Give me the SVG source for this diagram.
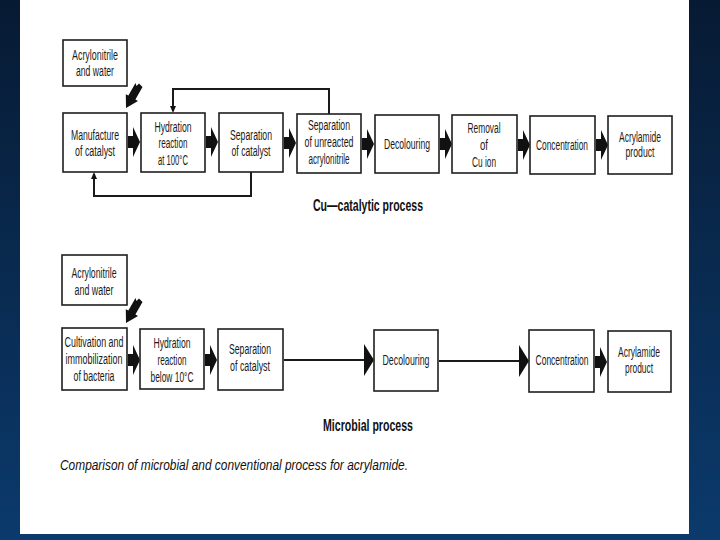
<svg xmlns="http://www.w3.org/2000/svg" xmlns:xlink="http://www.w3.org/1999/xlink" width="720" height="540" viewBox="0 0 720 540">
<defs>
<linearGradient id="bg" x1="0" y1="0" x2="0" y2="1">
<stop offset="0" stop-color="#071a33"/>
<stop offset="1" stop-color="#0b3a6c"/>
</linearGradient>
<path id="fat" d="M0,-6 L5,-6 L5,-15 L12,0 L5,15 L5,6 L0,6 Z"/>
<polygon id="diag" points="126,108 138,101 135.4,99.6 142.5,87 139,83.5 136.5,86 135.5,83 128.4,95.6 125.8,94.2"/>
<style>
.box{fill:#fff;stroke:#1e1e1e;stroke-width:1.6}
.t{font-family:"Liberation Sans",Arial,sans-serif;font-size:14px;fill:#1a1a1a;text-anchor:middle}
.ttl{font-family:"Liberation Sans",Arial,sans-serif;font-size:17px;font-weight:bold;fill:#111;text-anchor:middle}
.cap{font-family:"Liberation Sans",Arial,sans-serif;font-size:15px;font-style:italic;fill:#111}
.ln{fill:none;stroke:#1a1a1a;stroke-width:2}
.fill{fill:#111}
</style>
</defs>
<rect x="0" y="0" width="720" height="540" fill="url(#bg)"/>
<rect x="20" y="0" width="669" height="534" fill="#fff"/>

<g id="connectors">
<g class="fill">
<use xlink:href="#fat" transform="translate(128,142)"/>
<use xlink:href="#fat" transform="translate(206,142)"/>
<use xlink:href="#fat" transform="translate(284,143)"/>
<use xlink:href="#fat" transform="translate(362,144)"/>
<use xlink:href="#fat" transform="translate(440,144)"/>
<use xlink:href="#fat" transform="translate(518,145)"/>
<use xlink:href="#fat" transform="translate(596,145)"/>
<use xlink:href="#fat" transform="translate(128,360)"/>
<use xlink:href="#fat" transform="translate(205,360)"/>
<use xlink:href="#fat" transform="translate(595,362)"/>
<use xlink:href="#diag"/>
<use xlink:href="#diag" transform="translate(0,215)"/>
</g>
<polyline class="ln" points="329,114 329,89 173,89 173,107"/>
<polygon class="fill" points="170,106 176,106 173,113"/>
<polyline class="ln" points="251,172 251,196 94,196 94,178"/>
<polygon class="fill" points="91,179 97,179 94,172"/>
<line class="ln" x1="284" y1="360" x2="366" y2="360" stroke-width="2.5"/>
<polygon class="fill" points="364,344 374,360 364,376"/>
<line class="ln" x1="439" y1="361" x2="521" y2="361" stroke-width="2.5"/>
<polygon class="fill" points="519,345 529,361 519,377"/>
</g>

<g id="in1"><rect class="box" x="63" y="40" width="64" height="46"/>
<text class="t" x="95" y="60" textLength="46" lengthAdjust="spacingAndGlyphs">Acrylonitrile</text>
<text class="t" x="95" y="76" textLength="38" lengthAdjust="spacingAndGlyphs">and water</text></g>
<g id="n1"><rect class="box" x="63" y="113" width="64" height="59"/>
<text class="t" x="95" y="140" textLength="48" lengthAdjust="spacingAndGlyphs">Manufacture</text>
<text class="t" x="95" y="156" textLength="40" lengthAdjust="spacingAndGlyphs">of catalyst</text></g>
<g id="n2"><rect class="box" x="141" y="113" width="64" height="59"/>
<text class="t" x="173" y="132" textLength="37" lengthAdjust="spacingAndGlyphs">Hydration</text>
<text class="t" x="173" y="148" textLength="29" lengthAdjust="spacingAndGlyphs">reaction</text>
<text class="t" x="173" y="165" textLength="30" lengthAdjust="spacingAndGlyphs">at 100°C</text></g>
<g id="n3"><rect class="box" x="219" y="113" width="64" height="59"/>
<text class="t" x="251" y="140" textLength="42" lengthAdjust="spacingAndGlyphs">Separation</text>
<text class="t" x="251" y="156" textLength="39" lengthAdjust="spacingAndGlyphs">of catalyst</text></g>
<g id="n4"><rect class="box" x="297" y="114" width="64" height="59"/>
<text class="t" x="329" y="130" textLength="42" lengthAdjust="spacingAndGlyphs">Separation</text>
<text class="t" x="329" y="147" textLength="49" lengthAdjust="spacingAndGlyphs">of unreacted</text>
<text class="t" x="329" y="164" textLength="41" lengthAdjust="spacingAndGlyphs">acrylonitrile</text></g>
<g id="n5"><rect class="box" x="375" y="115" width="64" height="58"/>
<text class="t" x="407" y="149" textLength="46" lengthAdjust="spacingAndGlyphs">Decolouring</text></g>
<g id="n6"><rect class="box" x="452" y="115" width="65" height="58"/>
<text class="t" x="484" y="133" textLength="33" lengthAdjust="spacingAndGlyphs">Removal</text>
<text class="t" x="484" y="150" textLength="8" lengthAdjust="spacingAndGlyphs">of</text>
<text class="t" x="484" y="167" textLength="24" lengthAdjust="spacingAndGlyphs">Cu ion</text></g>
<g id="n7"><rect class="box" x="530" y="116" width="65" height="58"/>
<text class="t" x="562" y="150" textLength="52" lengthAdjust="spacingAndGlyphs">Concentration</text></g>
<g id="n8"><rect class="box" x="608" y="116" width="64" height="58"/>
<text class="t" x="640" y="142" textLength="42" lengthAdjust="spacingAndGlyphs">Acrylamide</text>
<text class="t" x="640" y="157" textLength="29" lengthAdjust="spacingAndGlyphs">product</text></g>
<text class="ttl" x="368" y="211" textLength="110" lengthAdjust="spacingAndGlyphs">Cu—catalytic process</text>

<g id="in2"><rect class="box" x="62" y="255" width="65" height="50"/>
<text class="t" x="94" y="278" textLength="45" lengthAdjust="spacingAndGlyphs">Acrylonitrile</text>
<text class="t" x="94" y="295" textLength="39" lengthAdjust="spacingAndGlyphs">and water</text></g>
<g id="m1"><rect class="box" x="62" y="328" width="65" height="62"/>
<text class="t" x="94" y="347" textLength="59" lengthAdjust="spacingAndGlyphs">Cultivation and</text>
<text class="t" x="94" y="364" textLength="57" lengthAdjust="spacingAndGlyphs">immobilization</text>
<text class="t" x="94" y="381" textLength="41" lengthAdjust="spacingAndGlyphs">of bacteria</text></g>
<g id="m2"><rect class="box" x="140" y="329" width="64" height="60"/>
<text class="t" x="172" y="348" textLength="37" lengthAdjust="spacingAndGlyphs">Hydration</text>
<text class="t" x="172" y="365" textLength="29" lengthAdjust="spacingAndGlyphs">reaction</text>
<text class="t" x="172" y="382" textLength="43" lengthAdjust="spacingAndGlyphs">below 10°C</text></g>
<g id="m3"><rect class="box" x="218" y="329" width="65" height="61"/>
<text class="t" x="250" y="354" textLength="42" lengthAdjust="spacingAndGlyphs">Separation</text>
<text class="t" x="250" y="371" textLength="40" lengthAdjust="spacingAndGlyphs">of catalyst</text></g>
<g id="m4"><rect class="box" x="374" y="330" width="64" height="61"/>
<text class="t" x="406" y="365" textLength="47" lengthAdjust="spacingAndGlyphs">Decolouring</text></g>
<g id="m5"><rect class="box" x="529" y="330" width="65" height="62"/>
<text class="t" x="562" y="365" textLength="53" lengthAdjust="spacingAndGlyphs">Concentration</text></g>
<g id="m6"><rect class="box" x="608" y="331" width="63" height="61"/>
<text class="t" x="639" y="357" textLength="42" lengthAdjust="spacingAndGlyphs">Acrylamide</text>
<text class="t" x="639" y="373" textLength="28" lengthAdjust="spacingAndGlyphs">product</text></g>
<text class="ttl" x="368" y="431" textLength="90" lengthAdjust="spacingAndGlyphs">Microbial process</text>

<text class="cap" x="60" y="470" textLength="348" lengthAdjust="spacingAndGlyphs">Comparison of microbial and conventional process for acrylamide.</text>
</svg>
